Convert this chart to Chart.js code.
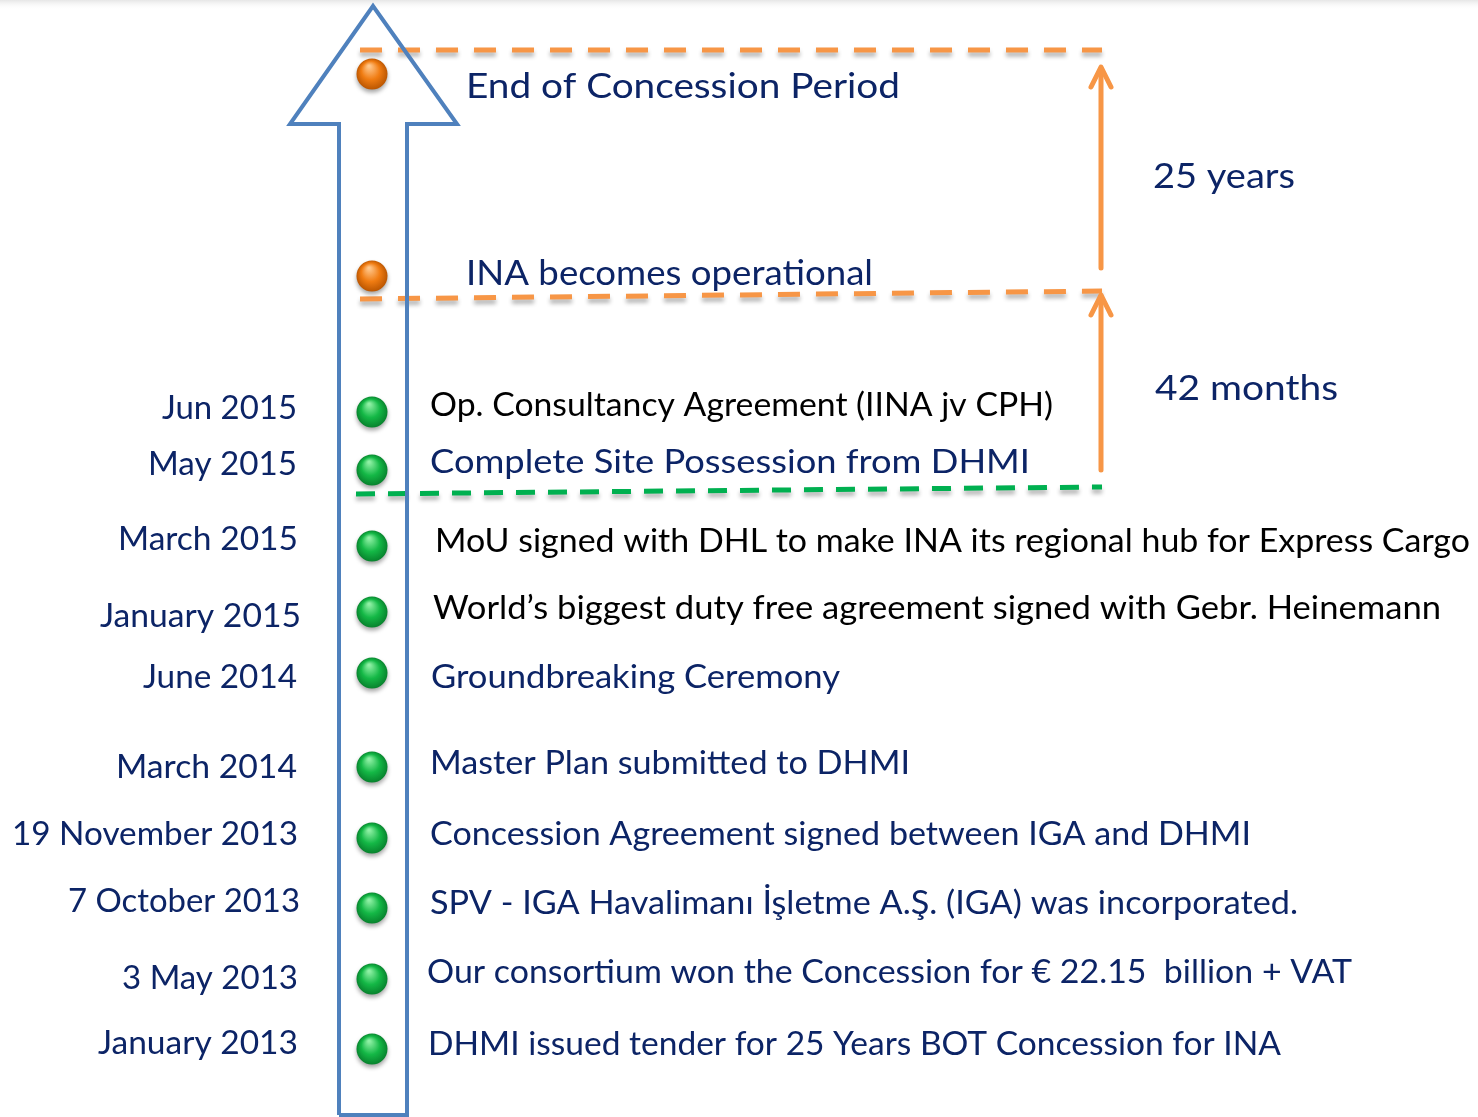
<!DOCTYPE html>
<html>
<head>
<meta charset="utf-8">
<script src="https://cdn.jsdelivr.net/npm/chart.js@4.4.0/dist/chart.umd.min.js"></script>
<style>
	html, body { margin: 0; padding: 0; background: #fff; overflow: hidden; }
	#wrap { width: 1478px; height: 1117px; }
</style>
</head>
<body>
<div id="wrap"><canvas id="timeline" width="1478" height="1117"></canvas></div>
<script>
// --- data ---
const dateLabels = ['Jun 2015', 'May 2015', 'March 2015', 'January 2015', 'June 2014', 'March 2014',
	'19 November 2013', '7 October 2013', '3 May 2013', 'January 2013'];
const eventLabels = [
	'Op. Consultancy Agreement (IINA jv CPH)',
	'Complete Site Possession from DHMI',
	'MoU signed with DHL to make INA its regional hub for Express Cargo',
	'World\u2019s biggest duty free agreement signed with Gebr. Heinemann',
	'Groundbreaking Ceremony',
	'Master Plan submitted to DHMI',
	'Concession Agreement signed between IGA and DHMI',
	'SPV - IGA Havalimanı İşletme A.Ş. (IGA) was incorporated.',
	'Our consortium won the Concession for € 22.15  billion + VAT',
	'DHMI issued tender for 25 Years BOT Concession for INA',
];
const milestoneLabels = ['End of Concession Period', 'INA becomes operational'];
const spanLabels = ['25 years', '42 months'];

// row of each dot on the (reversed) vertical axis
const milestoneRows = [74, 276];
const eventRows = [412, 470, 546, 612, 673, 767, 838, 908, 979, 1049];

// --- layout / style ---
const NAVY = '#0c2466';
const BLUE = '#4f81bd';
const ORANGE = '#f79646';
const GREEN = '#00b050';
const FONT = 'Lato, "Open Sans", sans-serif';
const dotX = 372;

const eventInk = ['#000', NAVY, '#000', '#000', NAVY, NAVY, NAVY, NAVY, NAVY, NAVY];
// [left, baseline, width]
const eventBox = [[430, 416, 623], [430, 473, 600], [435, 552, 1035], [433, 619, 1008], [431, 688, 409],
	[430, 774, 480], [430, 845, 821], [430, 914, 868], [427, 983, 925], [428, 1055, 853]];
// [right, baseline, width]
const dateBox = [[297, 419, 135], [297, 475, 149], [298, 550, 180], [301, 627, 201], [297, 688, 154],
	[297, 778, 181], [298, 845, 286], [300, 912, 232], [298, 989, 176], [298, 1054, 200]];
const milestoneBox = [[466, 98, 434], [466, 285, 407]];
const spanBox = [[1153, 188, 142], [1155, 400, 183]];

const arrowOutline = [[339, 1115], [339, 124], [290, 124], [373, 6], [457, 124], [407, 124], [407, 1115], [339, 1115]];

function pts(list) {
	return list.map(([x, y]) => ({ x, y }));
}

function ball(light, mid, dark) {
	const c = document.createElement('canvas');
	c.width = 48;
	c.height = 48;
	const g = c.getContext('2d');
	g.shadowColor = 'rgba(0,0,0,0.35)';
	g.shadowBlur = 4;
	g.shadowOffsetY = 3;
	const grad = g.createRadialGradient(21, 16, 1, 24, 24, 16);
	grad.addColorStop(0, light);
	grad.addColorStop(0.55, mid);
	grad.addColorStop(1, dark);
	g.fillStyle = grad;
	g.beginPath();
	g.arc(24, 24, 15.5, 0, Math.PI * 2);
	g.fill();
	return c;
}

const orangeBall = ball('#ffc68a', '#f07c12', '#b85400');
const greenBall = ball('#8ef0a4', '#14b846', '#07802c');

function dashed(from, to, color, dash) {
	return {
		type: 'line', data: pts([from, to]), borderColor: color, borderWidth: 5,
		borderDash: dash, pointRadius: 0, order: 3, shadow: true,
	};
}
function stroke(list, color, width) {
	return {
		type: 'line', data: pts(list), borderColor: color, borderWidth: width,
		pointRadius: 0, order: 2, borderCapStyle: 'round', borderJoinStyle: 'round',
	};
}

const datasets = [
	dashed([360, 50], [1102, 50], ORANGE, [22, 16]),
	dashed([360, 299], [1102, 291], ORANGE, [22, 16]),
	dashed([356, 494], [1102, 487], GREEN, [19, 13]),
	stroke([[1101, 268], [1101, 69]], ORANGE, 5),
	stroke([[1091, 87], [1101, 67], [1111, 87]], ORANGE, 5),
	stroke([[1101, 470], [1101, 296]], ORANGE, 5),
	stroke([[1091, 315], [1101, 295], [1111, 315]], ORANGE, 5),
	{ ...stroke(arrowOutline, BLUE, 4), borderCapStyle: 'butt', borderJoinStyle: 'miter', order: 1 },
	{
		type: 'scatter', data: milestoneRows.map((y) => ({ x: dotX, y })),
		pointStyle: orangeBall, order: 0,
	},
	{
		type: 'scatter', data: eventRows.map((y) => ({ x: dotX, y })),
		pointStyle: greenBall, order: 0,
	},
];

function fitText(ctx, text, x, y, width, size, color, align) {
	ctx.save();
	ctx.font = size + 'px ' + FONT;
	ctx.fillStyle = color;
	ctx.textBaseline = 'alphabetic';
	ctx.textAlign = align;
	const s = width / ctx.measureText(text).width;
	ctx.translate(x, y);
	ctx.scale(s, 1);
	ctx.fillText(text, 0, 0);
	ctx.restore();
}

const backdrop = {
	id: 'backdrop',
	beforeDraw(chart) {
		const ctx = chart.ctx;
		ctx.save();
		ctx.fillStyle = '#fff';
		ctx.fillRect(0, 0, chart.width, chart.height);
		const g = ctx.createLinearGradient(0, 0, 0, 10);
		g.addColorStop(0, '#e6e6e6');
		g.addColorStop(1, 'rgba(255,255,255,0)');
		ctx.fillStyle = g;
		ctx.fillRect(0, 0, chart.width, 10);
		ctx.restore();
	},
	beforeDatasetDraw(chart, args) {
		if (!args.meta._dataset.shadow) return;
		const ctx = chart.ctx;
		ctx.save();
		ctx.shadowColor = 'rgba(0,0,0,0.3)';
		ctx.shadowBlur = 4;
		ctx.shadowOffsetY = 4;
	},
	afterDatasetDraw(chart, args) {
		if (args.meta._dataset.shadow) chart.ctx.restore();
	},
};

const labels = {
	id: 'labels',
	afterDraw(chart) {
		const ctx = chart.ctx;
		const sx = chart.scales.x, sy = chart.scales.y;
		const px = (v) => sx.getPixelForValue(v);
		const py = (v) => sy.getPixelForValue(v);

		milestoneLabels.forEach((t, i) => {
			const [x, y, w] = milestoneBox[i];
			fitText(ctx, t, px(x), py(y), w, 35, NAVY, 'left');
		});
		spanLabels.forEach((t, i) => {
			const [x, y, w] = spanBox[i];
			fitText(ctx, t, px(x), py(y), w, 35, NAVY, 'left');
		});
		dateLabels.forEach((t, i) => {
			const [x, y, w] = dateBox[i];
			fitText(ctx, t, px(x), py(y), w, 33, NAVY, 'right');
		});
		eventLabels.forEach((t, i) => {
			const [x, y, w] = eventBox[i];
			fitText(ctx, t, px(x), py(y), w, 33, eventInk[i], 'left');
		});
	},
};

new Chart(document.getElementById('timeline'), {
	type: 'scatter',
	data: { datasets },
	options: {
		responsive: false,
		animation: false,
		layout: { padding: 0, autoPadding: false },
		plugins: { legend: { display: false }, tooltip: { enabled: false } },
		scales: {
			x: { type: 'linear', min: 0, max: 1478, display: false },
			y: { type: 'linear', min: 0, max: 1117, reverse: true, display: false },
		},
		elements: { line: { tension: 0 } },
	},
	plugins: [backdrop, labels],
});
</script>
</body>
</html>
